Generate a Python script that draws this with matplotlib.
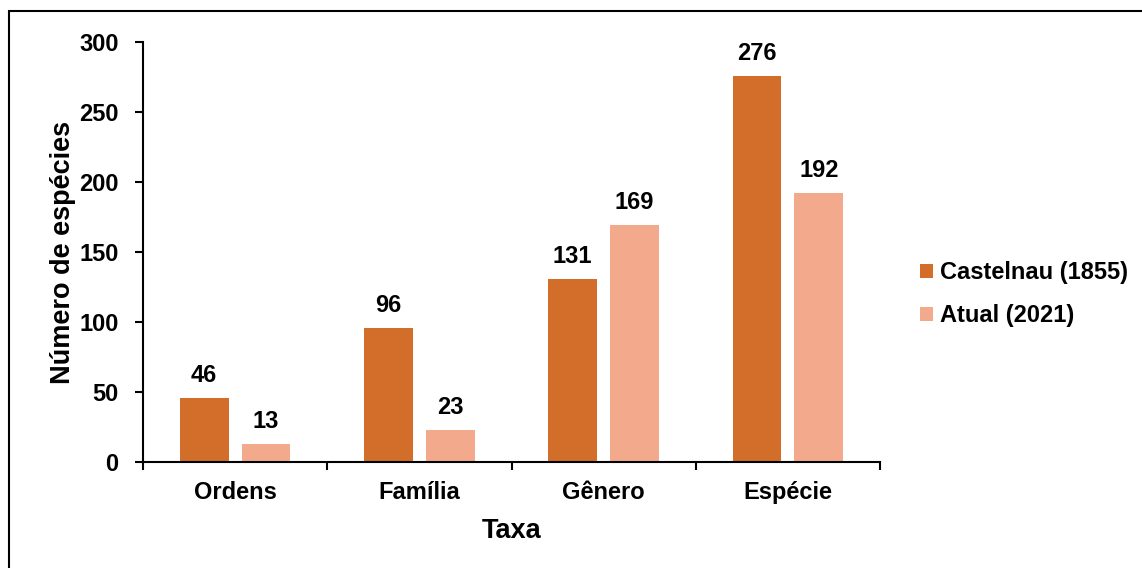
import matplotlib
matplotlib.use("Agg")
import matplotlib.pyplot as plt
import numpy as np
from matplotlib.patches import Rectangle

plt.rcParams['font.family'] = ['Liberation Sans', 'DejaVu Sans']
plt.rcParams['font.weight'] = 'bold'

categories = ["Ordens", "Família", "Gênero", "Espécie"]
castelnau = [46, 96, 131, 276]
atual = [13, 23, 169, 192]
series_names = ["Castelnau (1855)", "Atual (2021)"]
colors = ["#D26E2A", "#F2A98C"]

fig = plt.figure(figsize=(11.42, 5.68), dpi=100)
ax = fig.add_axes([0.1252, 0.1866, 0.6454, 0.7394])

x = np.arange(len(categories))
w = 0.265
off = 0.168
b1 = ax.bar(x - off, castelnau, w, color=colors[0], label=series_names[0])
b2 = ax.bar(x + off, atual, w, color=colors[1], label=series_names[1])

for bars, vals in ((b1, castelnau), (b2, atual)):
    for r, v in zip(bars, vals):
        ax.annotate(str(v), (r.get_x() + r.get_width() / 2, v),
                    xytext=(0, 8), textcoords="offset points",
                    ha="center", va="bottom", fontsize=17, fontweight="bold")

ax.set_xlim(-0.5, len(categories) - 0.5)
ax.set_ylim(0, 300)
ax.set_yticks(range(0, 301, 50))
ax.set_xticks(np.arange(-0.5, len(categories), 1.0))
ax.set_xticklabels([])
ax.set_xticks(x, minor=True)
ax.set_xticklabels(categories, minor=True)
ax.tick_params(axis="x", which="minor", length=0, pad=14, labelsize=17)
ax.tick_params(axis="x", which="major", length=6, width=1.5, direction="out")
ax.tick_params(axis="y", length=6, width=1.5, direction="out", pad=11.5, labelsize=17)
for s in ("top", "right"):
    ax.spines[s].set_visible(False)
for s in ("left", "bottom"):
    ax.spines[s].set_linewidth(1.5)

ax.set_ylabel("Número de espécies", fontsize=19.5, fontweight="bold", labelpad=2)
ax.set_xlabel("Taxa", fontsize=19.5, fontweight="bold", labelpad=10)

leg = fig.legend(handles=[b1, b2], labels=series_names, loc="center left",
                 bbox_to_anchor=(0.787, 0.482), frameon=False,
                 fontsize=17, handlelength=0.55, handleheight=0.55,
                 handletextpad=0.3, labelspacing=0.86)

# frame around the figure content
fig.add_artist(Rectangle((9 / 1142, -0.1), 1.2, 1 - 11 / 568 + 0.1,
                         transform=fig.transFigure, fill=False,
                         edgecolor="black", linewidth=1.5))

fig.savefig("out.png", dpi=100)
